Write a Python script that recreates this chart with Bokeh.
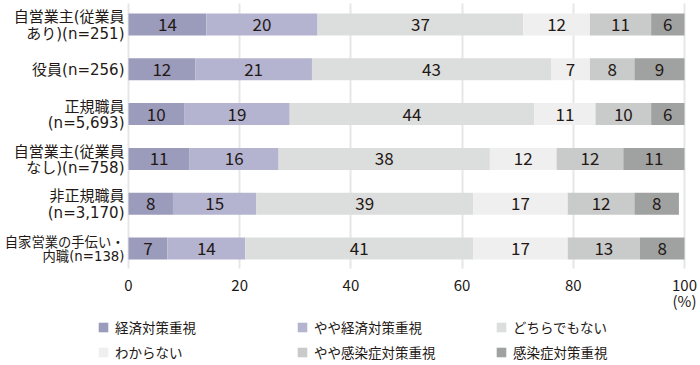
import numpy as np
from bokeh.plotting import figure
from bokeh.models import Range1d, Legend, LegendItem, ColumnDataSource, FixedTicker, Grid
from bokeh.core.properties import value
from bokeh.embed import file_html
from bokeh.resources import INLINE

FONT = "Noto Sans CJK JP"
LABEL_FONT = "'DejaVu Sans', 'Noto Sans CJK JP'"

categories = [
    "自営業主(従業員\nあり)(n=251)",
    "役員(n=256)",
    "正規職員\n(n=5,693)",
    "自営業主(従業員\nなし)(n=758)",
    "非正規職員\n(n=3,170)",
    "自家営業の手伝い・\n内職(n=138)",
]
series_names = ["経済対策重視", "やや経済対策重視", "どちらでもない",
                "わからない", "やや感染症対策重視", "感染症対策重視"]
keizai = [14, 12, 10, 11, 8, 7]
yaya_keizai = [20, 21, 19, 16, 15, 14]
dochira = [37, 43, 44, 38, 39, 41]
wakaranai = [12, 7, 11, 12, 17, 17]
yaya_kansen = [11, 8, 10, 12, 12, 13]
kansen = [6, 9, 6, 11, 8, 8]
colors = ["#9b9bbc", "#b4b4d0", "#dcdddd", "#efefef", "#c9caca", "#a0a1a1"]
x_ticks = [0, 20, 40, 60, 80, 100]
x_tick_labels = ["0", "20", "40", "60", "80", "100\n(%)"]

series = [keizai, yaya_keizai, dochira, wakaranai, yaya_kansen, kansen]

GRID_TOP, GRID_BOTTOM = -0.469, 5.446

p = figure(width=700, height=365, output_backend="svg", toolbar_location=None,
           x_range=Range1d(-23.02, 102.88), y_range=Range1d(7.6116, -0.5357),
           min_border_left=0, min_border_right=0, min_border_top=0,
           min_border_bottom=0)
p.outline_line_color = None
p.background_fill_color = "white"

# grid lines limited to the bar area
if "cross_bounds" in Grid.properties():
    p.xgrid.ticker = FixedTicker(ticks=x_ticks)
    p.xgrid.cross_bounds = (GRID_TOP, GRID_BOTTOM)
    p.xgrid.grid_line_color = "#e6e6e6"
    p.xgrid.grid_line_width = 2
else:
    p.xgrid.grid_line_color = None
    p.segment(x0=x_ticks, x1=x_ticks, y0=[GRID_TOP] * len(x_ticks),
              y1=[GRID_BOTTOM] * len(x_ticks), line_color="#e6e6e6", line_width=2)
p.ygrid.grid_line_color = None

ypos = np.arange(len(categories))
left = np.zeros(len(categories))
renderers = []
for vals, col in zip(series, colors):
    v = np.array(vals, dtype=float)
    src = ColumnDataSource(dict(y=ypos, left=left.copy(), right=left + v,
                                mid=left + v / 2, txt=[str(x) for x in vals]))
    r = p.hbar(y="y", left="left", right="right", height=0.49, source=src,
               fill_color=col, line_color=None)
    renderers.append(r)
    p.text(x="mid", y="y", text="txt", source=src, text_align="center",
           text_baseline="middle", text_font=value(FONT), text_font_size="17px",
           text_color="#231815")
    left = left + v


# category labels: shrink a label only if it would not fit left of the bars
def est_width(line, size):
    return sum(size if ord(ch) > 0x2000 else 0.62 * size for ch in line)


room = 120.0
label_sizes = []
for c in categories:
    w = max(est_width(line, 15) for line in c.split("\n"))
    label_sizes.append("%.1fpx" % (15 * min(1.0, room / w)))

lab_src = ColumnDataSource(dict(x=np.zeros(len(categories)), y=ypos, t=categories,
                                fs=label_sizes))
p.text(x="x", y="y", text="t", source=lab_src, x_offset=-4, y_offset=1,
       text_align="right", text_baseline="middle", text_font=value(LABEL_FONT),
       text_font_size="fs", text_color="#231815", text_line_height=0.92)

# axes
p.yaxis.visible = False
p.xaxis.fixed_location = GRID_BOTTOM - 0.18
p.xaxis.ticker = FixedTicker(ticks=x_ticks)
p.xaxis.major_label_overrides = dict(zip(x_ticks, x_tick_labels))
p.xaxis.axis_line_color = None
p.xaxis.major_tick_line_color = None
p.xaxis.minor_tick_line_color = None
p.xaxis.major_label_text_font = FONT
p.xaxis.major_label_text_font_size = "15px"
p.xaxis.major_label_text_color = "#231815"
p.xaxis.major_label_text_line_height = 0.76
p.xaxis.major_label_standoff = 8

items = [LegendItem(label=n, renderers=[r]) for n, r in zip(series_names, renderers)]
legend = Legend(items=items, location=(97, 3), ncols=3, orientation="horizontal",
                glyph_width=12, glyph_height=12, label_standoff=6, label_width=176,
                label_height=20, spacing=5, padding=0, margin=0,
                border_line_color=None, background_fill_alpha=0,
                label_text_font=FONT, label_text_font_size="13.5px",
                label_text_color="#231815")
p.add_layout(legend, "center")

open("out.html", "w").write(file_html(p, INLINE))
